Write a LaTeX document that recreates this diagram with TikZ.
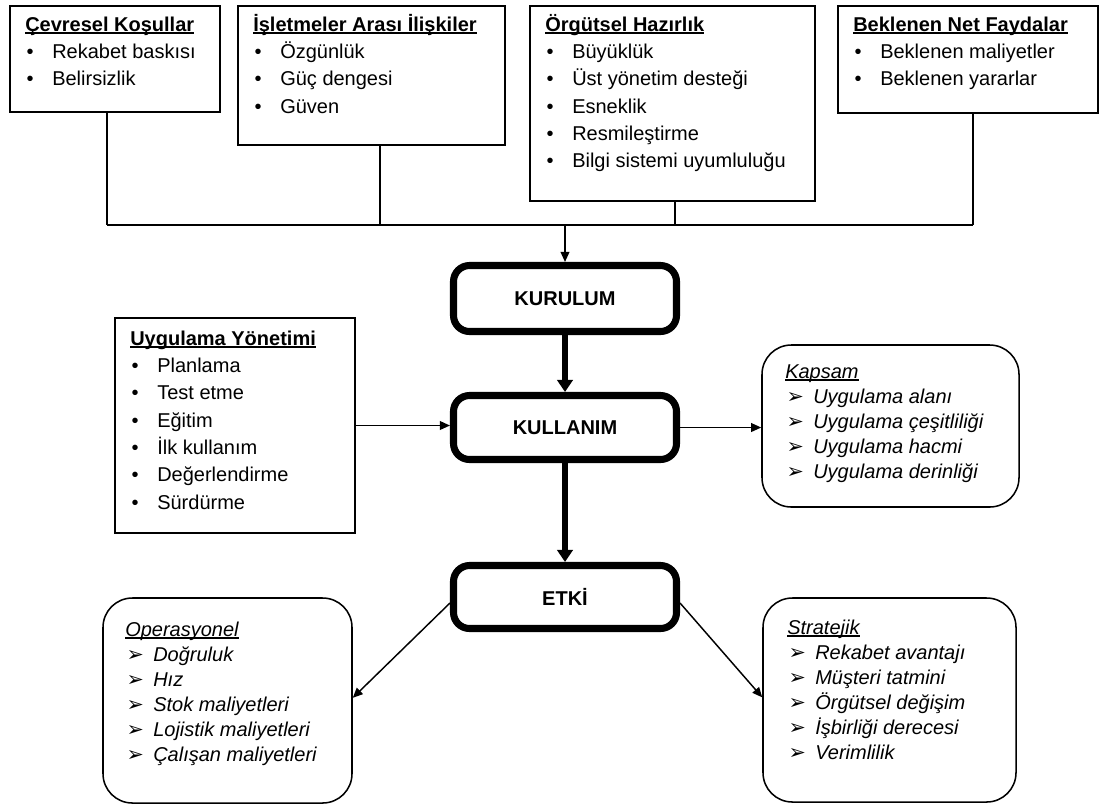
\documentclass[tikz,border=0pt]{standalone}
\usepackage{fontspec}
\setmainfont{Liberation Sans}
\newfontfamily\dvsans{DejaVu Sans}
\usetikzlibrary{arrows.meta}

% underline at a fixed depth, crossing descenders
\newlength\ulwidth
\newcommand\ulin[1]{\leavevmode\settowidth\ulwidth{#1}\rlap{\rule[-1.9pt]{\ulwidth}{1.05pt}}#1}
% list markers
\newcommand\bul{\hspace*{1pt}\makebox[19.25pt][l]{•}}
\newcommand\arr{\hspace*{1pt}\makebox[20pt][l]{\dvsans\upshape\fontsize{15.5}{15}\selectfont ➢}}

\tikzset{
  frame/.style={draw, line width=1.15pt, inner sep=0pt},
  rframe/.style={frame, rounded corners=22pt},
  stage/.style={draw, line width=5.3pt, rounded corners=12pt, inner sep=0pt,
    minimum width=167.25pt, font=\fontsize{15}{18}\selectfont\bfseries},
  listtext/.style={anchor=base west, inner sep=0pt, font=\fontsize{15}{20.5}\selectfont},
  itallist/.style={anchor=base west, inner sep=0pt, font=\fontsize{15}{18.75}\selectfont\itshape},
  link/.style={line width=1.1pt},
  thinarrow/.style={link, -{Triangle[length=7.5pt,width=6.5pt]}},
  thickarrow/.style={line width=3.8pt, -{Triangle[length=9pt,width=11.5pt]}},
}

\begin{document}
\begin{tikzpicture}[x=0.75pt,y=-0.75pt]
\useasboundingbox (0,0) rectangle (1105,808);

% upper factor boxes
\node[frame, minimum width=157.5pt, minimum height=79.5pt] (env) at (115,59) {};
\node[frame, minimum width=200.25pt, minimum height=104.25pt] (rel) at (371.5,75.5) {};
\node[frame, minimum width=213.75pt, minimum height=146.25pt] (org) at (672.5,103.5) {};
\node[frame, minimum width=195pt, minimum height=80.25pt] (ben) at (968,59.5) {};

\node[listtext] (envt) at (25,31) {\parbox[t]{180pt}{\raggedright
  \textbf{\ulin{Çevresel Koşullar}}\\
  \bul Rekabet baskısı\\
  \bul Belirsizlik}};
\node[listtext] (relt) at (253,31) {\parbox[t]{240pt}{\raggedright
  \textbf{\ulin{İşletmeler Arası İlişkiler}}\\
  \bul Özgünlük\\
  \bul Güç dengesi\\
  \bul Güven}};
\node[listtext] (orgt) at (545,31) {\parbox[t]{240pt}{\raggedright
  \textbf{\ulin{Örgütsel Hazırlık}}\\
  \bul Büyüklük\\
  \bul Üst yönetim desteği\\
  \bul Esneklik\\
  \bul Resmileştirme\\
  \bul Bilgi sistemi uyumluluğu}};
\node[listtext] (bent) at (853,31) {\parbox[t]{240pt}{\raggedright
  \textbf{\ulin{Beklenen Net Faydalar}}\\
  \bul Beklenen maliyetler\\
  \bul Beklenen yararlar}};

% stages
\node[stage, minimum height=49.5pt] (kur) at (565,298.5) {KURULUM};
\node[stage, minimum height=48pt] (kul) at (565,427.5) {KULLANIM};
\node[stage, minimum height=47.25pt] (etk) at (565,597) {ETKİ};

% implementation management
\node[frame, minimum width=180pt, minimum height=161.25pt] (uyg) at (235,425.5) {};
\node[listtext] (uygt) at (130,345) {\parbox[t]{170pt}{\raggedright
  \textbf{\ulin{Uygulama Yönetimi}}\\
  \bul Planlama\\
  \bul Test etme\\
  \bul Eğitim\\
  \bul İlk kullanım\\
  \bul Değerlendirme\\
  \bul Sürdürme}};

% scope
\node[rframe, minimum width=192.75pt, minimum height=121.5pt] (kap) at (890.5,426) {};
\node[itallist] (kapt) at (785,378) {\parbox[t]{180pt}{\raggedright
  \ulin{Kapsam}\\
  \arr Uygulama alanı\\
  \arr Uygulama çeşitliliği\\
  \arr Uygulama hacmi\\
  \arr Uygulama derinliği}};

% impact categories
\node[rframe, minimum width=186.75pt, minimum height=153.75pt] (ope) at (227.5,700.5) {};
\node[itallist] (opet) at (125,636) {\parbox[t]{180pt}{\raggedright
  \ulin{Operasyonel}\\
  \arr Doğruluk\\
  \arr Hız\\
  \arr Stok maliyetleri\\
  \arr Lojistik maliyetleri\\
  \arr Çalışan maliyetleri}};

\node[rframe, minimum width=189.75pt, minimum height=153pt] (str) at (889.5,700) {};
\node[itallist] (strt) at (787,634) {\parbox[t]{180pt}{\raggedright
  \ulin{Stratejik}\\
  \arr Rekabet avantajı\\
  \arr Müşteri tatmini\\
  \arr Örgütsel değişim\\
  \arr İşbirliği derecesi\\
  \arr Verimlilik}};

% collecting bus above KURULUM
\coordinate (v1) at (107,225);
\coordinate (v2) at (380,225);
\coordinate (v3) at (675,225);
\coordinate (v4) at (973,225);
\coordinate (vin) at (565,225);
\draw[link] (env.south -| v1) -- (v1);
\draw[link] (rel.south -| v2) -- (v2);
\draw[link] (org.south -| v3) -- (v3);
\draw[link] (ben.south -| v4) -- (v4);
\draw[link] (v1) -- (v4);
\draw[thinarrow] (vin) -- (kur.north);

% flow between stages
\draw[thickarrow] (kur.south) -- (kul.north);
\draw[thickarrow] (kul.south) -- (etk.north);
\draw[thinarrow] (uyg.east) -- (uyg.east -| kul.west);
\draw[thinarrow] (kul.east) -- (kul.east -| kap.west);
\draw[thinarrow] ([yshift=-4.5pt]etk.west) -- ([yshift=2pt]ope.east);
\draw[thinarrow] ([yshift=-4.5pt]etk.east) -- ([yshift=2pt]str.west);
\end{tikzpicture}
\end{document}
